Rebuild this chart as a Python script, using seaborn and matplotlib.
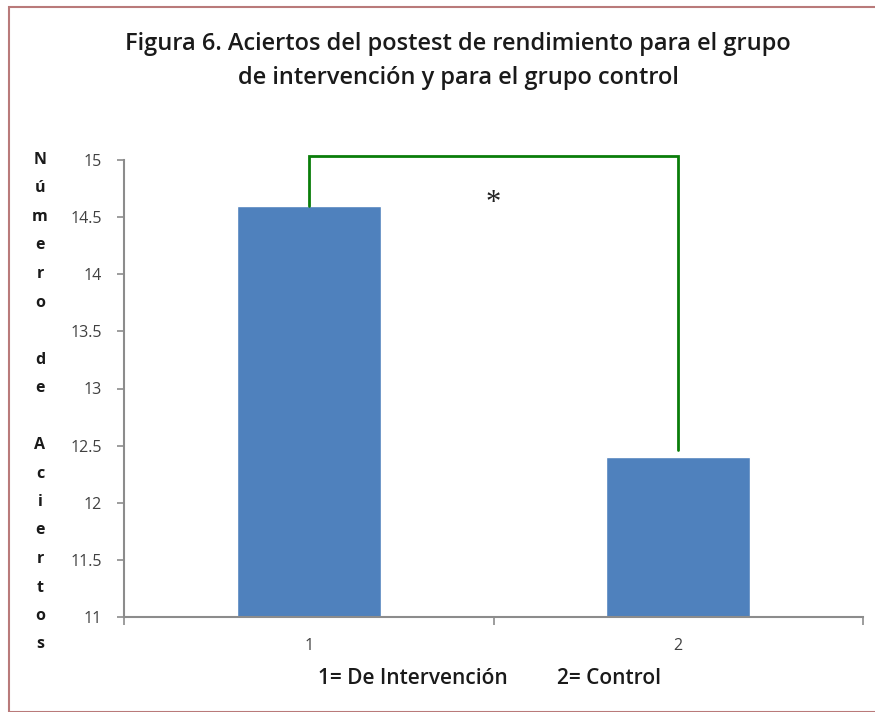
"""Figura 6: aciertos del postest, grupo de intervención vs control."""

import matplotlib
matplotlib.use("Agg")
import matplotlib.pyplot as plt
import matplotlib.patches as mpatches
import pandas as pd
import seaborn as sns

# Data
groups = ["1", "2"]
aciertos = [14.6, 12.4]
y_ticks = [11, 11.5, 12, 12.5, 13, 13.5, 14, 14.5, 15]
y_label_letters = list("Número") + [""] + list("de") + [""] + list("Aciertos")
bracket_top = 15.035
bracket_right_end = 12.46
star_y = 14.62

TITLE = ("Figura 6. Aciertos del postest de rendimiento para el grupo\n"
         "de intervención y para el grupo control")
BAR_COLOR = "#4F81BD"
GREEN = "#0a7d0a"
AXIS_GRAY = "#8c8c8c"

sns.set_theme(style="white")
plt.rcParams["font.family"] = ["Open Sans", "DejaVu Sans"]

W, H = 875, 712
fig = plt.figure(figsize=(W / 100, H / 100), dpi=100)
fig.patch.set_facecolor("white")

def px_x(x):
  return x / W

def px_y(y):
  return 1 - y / H

ax = fig.add_axes([px_x(124), px_y(617), px_x(863 - 124), (617 - 160) / H])

df = pd.DataFrame({"grupo": groups, "aciertos": aciertos})
sns.barplot(data=df, x="grupo", y="aciertos", color=BAR_COLOR, width=0.39,
    saturation=1, ax=ax)

ax.set_xlim(-0.5, 1.5)
ax.set_ylim(11, 15)
ax.set_yticks(y_ticks)
ax.set_yticklabels(["%g" % v for v in y_ticks])
ax.set_xlabel("")
ax.set_ylabel("")

# Excel-like ticks: marks between categories, labels at categories
ax.set_xticks([0, 1])
ax.set_xticks([-0.5, 0.5, 1.5], minor=True)
ax.tick_params(axis="x", which="major", length=0, pad=15, labelsize=11.5,
    labelcolor="#404040")
ax.tick_params(axis="x", which="minor", length=6, width=1.2, color=AXIS_GRAY,
    direction="out", bottom=True)
ax.tick_params(axis="y", length=5, width=1.2, color=AXIS_GRAY, direction="out",
    left=True, pad=11, labelsize=11.5, labelcolor="#404040")

for side in ["top", "right"]:
  ax.spines[side].set_visible(False)
for side in ["left", "bottom"]:
  ax.spines[side].set_color(AXIS_GRAY)
  ax.spines[side].set_linewidth(1.5)

# Significance bracket
ax.plot([0, 0, 1, 1], [aciertos[0], bracket_top, bracket_top, bracket_right_end],
    color=GREEN, lw=2, clip_on=False, solid_joinstyle="miter")
ax.text(0.5, star_y, "*", ha="center", va="center", fontsize=22,
    family="Liberation Serif", color="#222222")

# Title
fig.text(px_x(458), px_y(61), TITLE, ha="center", va="center", fontsize=17,
    fontweight="semibold", linespacing=1.55, color="#1a1a1a")

# Vertical stacked y label
for i, letter in enumerate(y_label_letters):
  fig.text(px_x(40), px_y(160 + i * 28.5), letter, ha="center", va="center",
      fontsize=11.5, fontweight="bold", color="#1a1a1a")

# Legend for the categories
fig.text(px_x(318), px_y(678), "1= De Intervención", ha="left", va="center",
    fontsize=15, fontweight="semibold", color="#1a1a1a")
fig.text(px_x(557), px_y(678), "2= Control", ha="left", va="center",
    fontsize=15, fontweight="semibold", color="#1a1a1a")

# Chart frame
frame = mpatches.Rectangle((px_x(9), 0), 1.5, px_y(7), transform=fig.transFigure,
    fill=False, edgecolor="#b97a7a", lw=1.5)
fig.patches.append(frame)

fig.savefig("out.png", dpi=100, facecolor="white")
